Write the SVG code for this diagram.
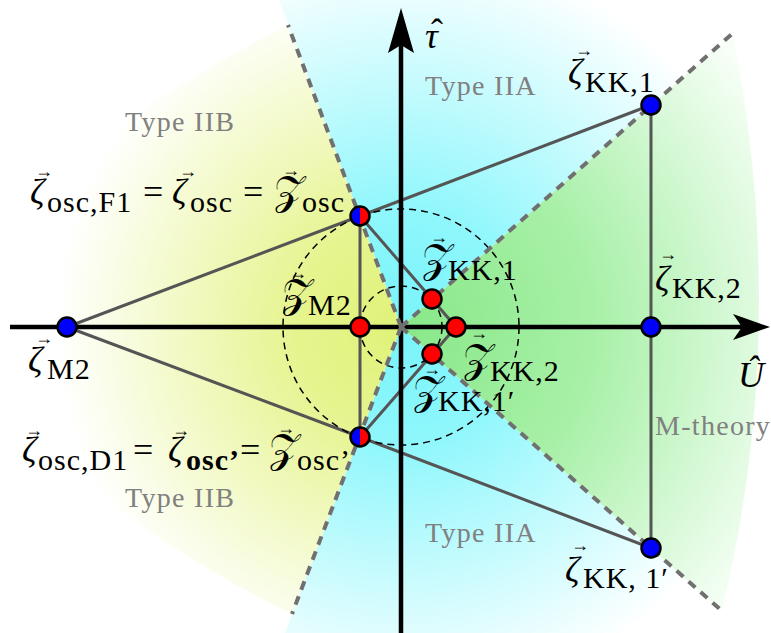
<svg xmlns="http://www.w3.org/2000/svg" width="771" height="633" viewBox="0 0 771 633">
<defs>
<radialGradient id="gCyan" gradientUnits="userSpaceOnUse" cx="401" cy="327" r="380">
<stop offset="0" stop-color="#78f4fa"/><stop offset="0.3" stop-color="#8ef7fc"/><stop offset="1" stop-color="#ffffff"/>
</radialGradient>
<radialGradient id="gYellow" gradientUnits="userSpaceOnUse" cx="401" cy="327" r="345">
<stop offset="0" stop-color="#e0f278"/><stop offset="0.3" stop-color="#e6f48e"/><stop offset="1" stop-color="#ffffff"/>
</radialGradient>
<radialGradient id="gGreen" gradientUnits="userSpaceOnUse" cx="401" cy="327" r="430">
<stop offset="0" stop-color="#88e888"/><stop offset="0.45" stop-color="#a8f0a8"/><stop offset="1" stop-color="#f8fff8"/>
</radialGradient>
<style>
.conn{stroke:#555555;stroke-width:3;fill:none;stroke-linecap:round}
.circ{stroke:#000;stroke-width:1.5;fill:none;stroke-dasharray:7 5}
.ray{stroke:#707070;stroke-width:4;fill:none;stroke-dasharray:9 7}
.axis{stroke:#000;stroke-width:4.5;fill:none}
.node{stroke:#000;stroke-width:2.5}
.blue{fill:#0000ff}
.red{fill:#ff0000}
.m{font-family:"Liberation Serif","DejaVu Serif",serif;font-style:italic;font-size:36px;fill:#000}
.s{font-family:"Liberation Serif","DejaVu Serif",serif;font-size:30px;letter-spacing:1px;fill:#000}
.eq{font-family:"Liberation Serif","DejaVu Serif",serif;font-size:36px;fill:#000}
.cal{font-family:"DejaVu Sans","DejaVu Serif",serif;font-size:40px;fill:#000}
.vec{font-family:"Liberation Serif","DejaVu Serif",serif;font-size:18px;fill:#000;text-anchor:middle}
.type{font-family:"Liberation Serif","DejaVu Serif",serif;font-size:28px;letter-spacing:1.3px;fill:#808080}
</style>
</defs>
<g id="shading">
<path d="M401,327 L279,0 L770,0 Z" fill="url(#gCyan)"/>
<path d="M401,327 L285,633 L747,633 Z" fill="url(#gCyan)"/>
<path d="M401,327 L288,25 Q-300,320 292,614 Z" fill="url(#gYellow)"/>
<path d="M401,327 L733,33 Q790,327 722,611 Z" fill="url(#gGreen)"/>
</g>
<g id="connectors">
<line class="conn" x1="67" y1="327" x2="360" y2="216"/>
<line class="conn" x1="67" y1="327" x2="360" y2="437"/>
<line class="conn" x1="360" y1="216" x2="651" y2="105"/>
<line class="conn" x1="360" y1="437" x2="651" y2="548"/>
<line class="conn" x1="360" y1="216" x2="360" y2="437"/>
<line class="conn" x1="651" y1="105" x2="651" y2="548"/>
<line class="conn" x1="360" y1="216" x2="456" y2="327"/>
<line class="conn" x1="360" y1="437" x2="456" y2="327"/>
<circle class="circ" cx="401" cy="327" r="41"/>
<circle class="circ" cx="401" cy="327" r="118"/>
</g>
<g id="axes">
<line class="axis" x1="10" y1="327" x2="742" y2="327"/>
<path d="M770,327 L733,314 L742,327 L733,340 Z" fill="#000"/>
<line class="axis" x1="401" y1="633" x2="401" y2="45"/>
<path d="M401,8 L388,53 L401,45 L414,53 Z" fill="#000"/>
<text class="m" x="425" y="48" font-size="34">τ</text>
<text class="eq" x="437" y="44" font-size="34" text-anchor="middle">ˆ</text>
<text class="m" x="738" y="387">Û</text>
</g>
<g id="rays">
<line class="ray" x1="401" y1="327" x2="288" y2="25"/>
<line class="ray" x1="401" y1="327" x2="292" y2="614"/>
<line class="ray" x1="401" y1="327" x2="733" y2="33"/>
<line class="ray" x1="401" y1="327" x2="722" y2="611"/>
</g>
<g id="region-labels">
<text class="type" x="125" y="131">Type IIB</text>
<text class="type" x="125" y="507">Type IIB</text>
<text class="type" x="425" y="95">Type IIA</text>
<text class="type" x="425" y="542">Type IIA</text>
<text class="type" x="655" y="435">M-theory</text>
</g>
<g id="n_zeta_M2">
<circle class="node blue" cx="67" cy="327" r="9.5"/>
<text class="vec" x="44" y="344">→</text>
<text class="m" x="28" y="372">ζ</text><text class="s" x="47" y="379">M2</text>
</g>
<g id="n_osc_F1">
<path class="blue" d="M360,206.5 A9.5,9.5 0 0 0 360,225.5 Z"/>
<path class="red" d="M360,206.5 A9.5,9.5 0 0 1 360,225.5 Z"/>
<circle class="node" cx="360" cy="216" r="9.5" fill="none"/>
<text class="vec" x="44" y="177">→</text>
<text class="m" x="30" y="204">ζ</text><text class="s" x="47" y="212">osc,F1</text>
<text class="eq" x="143" y="204">=</text>
<text class="vec" x="188" y="177">→</text>
<text class="m" x="172" y="204">ζ</text><text class="s" x="190" y="212">osc</text>
<text class="eq" x="243" y="204">=</text>
<text class="vec" x="291" y="176">→</text>
<text class="cal" x="274" y="204">𝒵</text><text class="s" x="302" y="212">osc</text>
</g>
<g id="n_osc_D1">
<path class="blue" d="M360,427.5 A9.5,9.5 0 0 0 360,446.5 Z"/>
<path class="red" d="M360,427.5 A9.5,9.5 0 0 1 360,446.5 Z"/>
<circle class="node" cx="360" cy="437" r="9.5" fill="none"/>
<text class="vec" x="34" y="436">→</text>
<text class="m" x="22" y="462">ζ</text><text class="s" x="38" y="470">osc,D1</text>
<text class="eq" x="133" y="462">=</text>
<text class="vec" x="181" y="436">→</text>
<text class="m" x="168" y="462">ζ</text><text class="s" x="186" y="470" font-weight="bold">osc’</text>
<text class="eq" x="240" y="462">=</text>
<text class="vec" x="286" y="434">→</text>
<text class="cal" x="269" y="462">𝒵</text><text class="s" x="297" y="470">osc’</text>
</g>
<g id="n_Z_M2">
<circle class="node red" cx="360" cy="327" r="9.5"/>
<text class="vec" x="298" y="279">→</text>
<text class="cal" x="282" y="307">𝒵</text><text class="s" x="308" y="315">M2</text>
</g>
<g id="n_KK1">
<circle class="node blue" cx="651" cy="105" r="9.5"/>
<text class="vec" x="584" y="56">→</text>
<text class="m" x="568" y="84">ζ</text><text class="s" x="585" y="92">KK,1</text>
</g>
<g id="n_KK2">
<circle class="node blue" cx="651" cy="327" r="9.5"/>
<text class="vec" x="668" y="260">→</text>
<text class="m" x="655" y="291">ζ</text><text class="s" x="672" y="298">KK,2</text>
</g>
<g id="n_KK1p">
<circle class="node blue" cx="651" cy="548" r="9.5"/>
<text class="vec" x="580" y="551">→</text>
<text class="m" x="565" y="582">ζ</text><text class="s" x="583" y="588">KK, 1′</text>
</g>
<g id="n_ZKK1">
<circle class="node red" cx="432" cy="299" r="9.5"/>
<text class="vec" x="439" y="243">→</text>
<text class="cal" x="422" y="272">𝒵</text><text class="s" x="448" y="280">KK,1</text>
</g>
<g id="n_ZKK2">
<circle class="node red" cx="456" cy="327" r="9.5"/>
<text class="vec" x="479" y="339">→</text>
<text class="cal" x="463" y="372">𝒵</text><text class="s" x="490" y="381">KK,2</text>
</g>
<g id="n_ZKK1p">
<circle class="node red" cx="432" cy="354" r="9.5"/>
<text class="vec" x="432" y="375">→</text>
<text class="cal" x="413" y="404">𝒵</text><text class="s" x="438" y="411">KK,1′</text>
</g>
</svg>
